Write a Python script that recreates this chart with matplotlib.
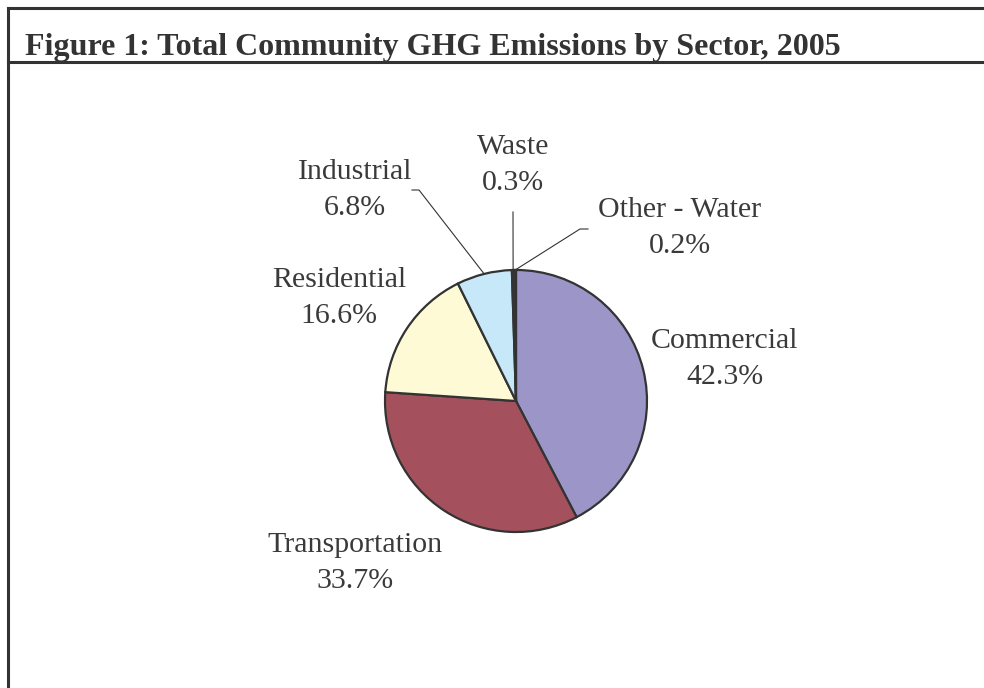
import numpy as np
from matplotlib import pyplot as plt

plt.rcParams['font.family'] = ['Liberation Serif', 'DejaVu Serif']

# data
sectors = ['Commercial', 'Transportation', 'Residential', 'Industrial', 'Waste', 'Other - Water']
shares = [42.3, 33.7, 16.6, 6.8, 0.3, 0.2]
colors = ['#9c96c8', '#a5515d', '#fffad6', '#c6e8f8', '#333333', '#222222']

title = 'Figure 1: Total Community GHG Emissions by Sector, 2005'

# layout (pixel coordinates, y measured from the top)
W, H = 984, 688
cx, cy, r = 516, 401, 131
label_pos = [(725, 359), (355, 563), (339, 298), (355, 190), (513, 165), (680, 228)]
# leader lines: (text end x, text end y, elbow x)
leaders = {3: (412, 190, 419), 4: (513, 212, 513), 5: (588, 229, 580)}

ink = '#333333'

fig = plt.figure(figsize=(W / 100, H / 100), dpi=100)
ax = fig.add_axes([0, 0, 1, 1])

def fy(y):
    return H - y

wedges, _ = ax.pie(shares, colors=colors, startangle=90, counterclock=False,
                   center=(cx, fy(cy)), radius=r, normalize=True,
                   wedgeprops=dict(edgecolor=ink, linewidth=1.6))

ax.set_xlim(0, W)
ax.set_ylim(0, H)
ax.set_aspect('equal')
ax.axis('off')

# frame lines
ax.plot([8, W], [fy(8), fy(8)], color=ink, lw=2.2, solid_capstyle='projecting')
ax.plot([8, 8], [fy(8), 0], color=ink, lw=2.2, solid_capstyle='projecting')
ax.plot([8, W], [fy(62), fy(62)], color=ink, lw=2.2)

ax.text(25, fy(55), title, fontsize=23, fontweight='bold', color=ink,
        ha='left', va='baseline')

for i, (name, val) in enumerate(zip(sectors, shares)):
    lx, ly = label_pos[i]
    ax.text(lx, fy(ly), f'{name}\n{val}%', fontsize=21.5, color='#3a3a3a',
            ha='center', va='center', linespacing=1.5)
    if i in leaders:
        w = wedges[i]
        mid = np.radians((w.theta1 + w.theta2) / 2)
        ex = cx + r * np.cos(mid)
        ey = fy(cy) + r * np.sin(mid)
        tx, ty, bx = leaders[i]
        ax.plot([tx, bx, ex], [fy(ty), fy(ty), ey], color=ink, lw=0.8)

fig.savefig('out.png', dpi=100)
